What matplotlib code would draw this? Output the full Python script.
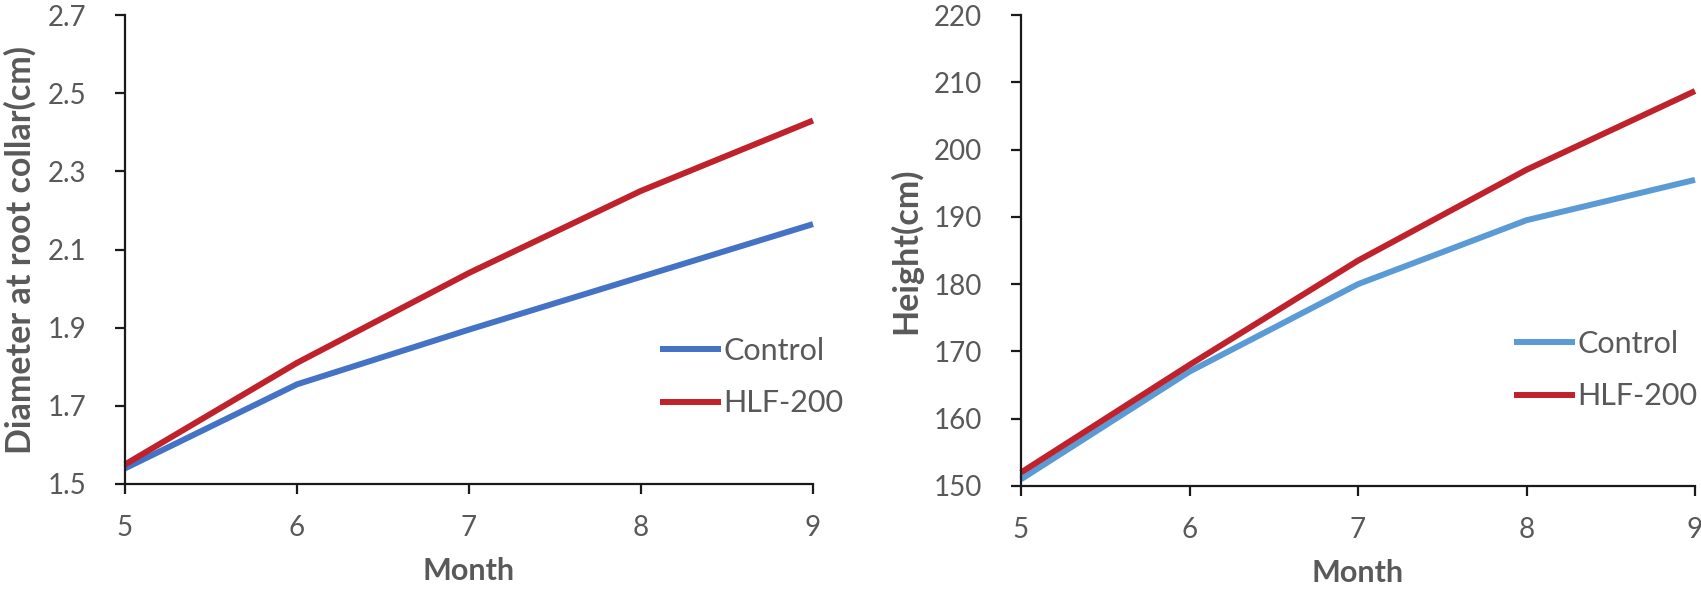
import matplotlib
matplotlib.use('Agg')
import matplotlib.pyplot as plt

plt.rcParams['font.family'] = ['Lato', 'DejaVu Sans']

months = [5, 6, 7, 8, 9]
diam_control = [1.54, 1.755, 1.895, 2.03, 2.165]
diam_hlf = [1.55, 1.81, 2.04, 2.25, 2.43]
height_control = [151, 167, 180, 189.5, 195.5]
height_hlf = [152, 168, 183.5, 197, 208.7]

gray = '#595959'
red = '#C0222B'

fig = plt.figure(figsize=(17.01, 5.91), dpi=100)
W, H = 1701, 591
ax1 = fig.add_axes([125 / W, 1 - 484 / H, 688 / W, 469 / H])
ax2 = fig.add_axes([1021 / W, 1 - 486 / H, 674 / W, 471 / H])


def style(ax, ylim, yticks, ylabel, lab_x):
    ax.set_xlim(5, 9)
    ax.set_ylim(*ylim)
    ax.set_xticks(months)
    ax.set_yticks(yticks)
    for s in ['top', 'right']:
        ax.spines[s].set_visible(False)
    for s in ['left', 'bottom']:
        ax.spines[s].set_linewidth(1.6)
        ax.spines[s].set_color('#1a1a1a')
    ax.tick_params(axis='both', length=7, width=1.6, color='#1a1a1a',
                   labelsize=20, labelcolor=gray)
    ax.tick_params(axis='y', pad=21)
    ax.tick_params(axis='x', pad=15)
    ax.set_xlabel('Month', fontsize=22, fontweight='bold', color=gray, labelpad=12)
    ax.set_ylabel(ylabel, fontsize=24.5, fontweight='bold', color=gray)
    ax.yaxis.set_label_coords(lab_x, 0.5)


ax1.plot(months, diam_control, color='#4472C4', lw=4.3, label='Control', solid_capstyle='butt')
ax1.plot(months, diam_hlf, color=red, lw=4.3, label='HLF-200', solid_capstyle='butt')
style(ax1, (1.5, 2.7), [1.5, 1.7, 1.9, 2.1, 2.3, 2.5, 2.7],
      'Diameter at root collar(cm)', -0.128)
ax1.legend(loc='center left', bbox_to_anchor=(0.737, 0.228), frameon=False,
           fontsize=22, handlelength=2.0, handletextpad=0.08, labelspacing=0.8,
           labelcolor=gray)

ax2.plot(months, height_control, color='#5B9BD5', lw=4.3, label='Control', solid_capstyle='butt')
ax2.plot(months, height_hlf, color=red, lw=4.3, label='HLF-200', solid_capstyle='butt')
style(ax2, (150, 220), [150, 160, 170, 180, 190, 200, 210, 220],
      'Height(cm)', -0.147)
ax2.legend(loc='center left', bbox_to_anchor=(0.69, 0.246), frameon=False,
           fontsize=22, handlelength=2.0, handletextpad=0.08, labelspacing=0.8,
           labelcolor=gray)

for ax in (ax1, ax2):
    for line in ax.lines:
        line.set_clip_on(False)

plt.savefig('out.png', dpi=100)
